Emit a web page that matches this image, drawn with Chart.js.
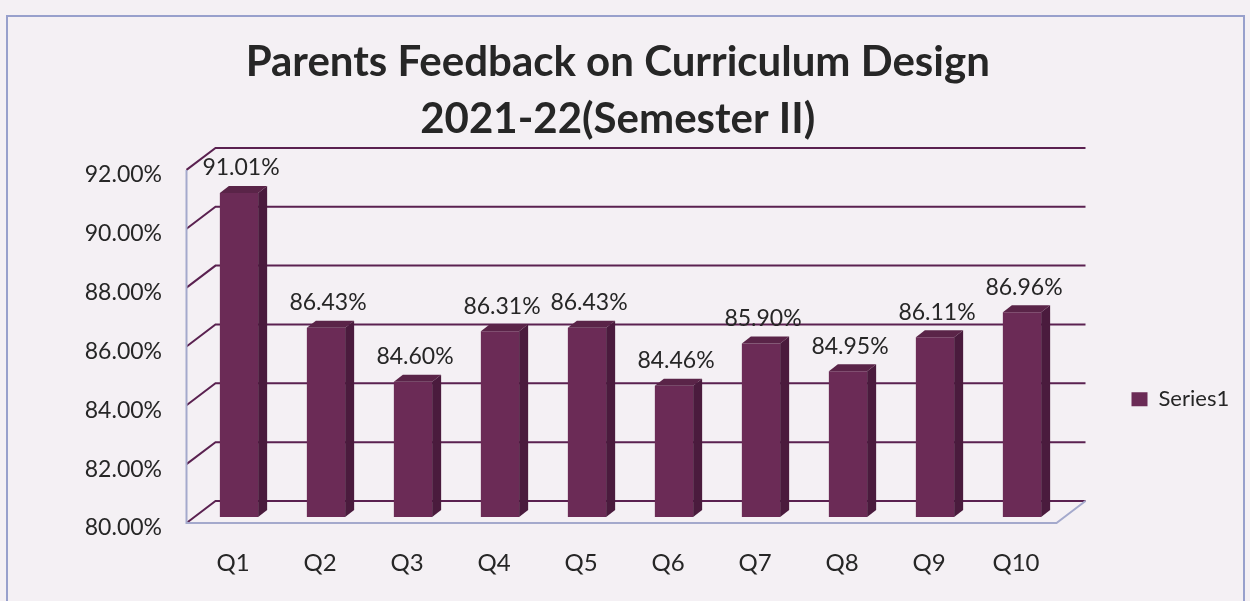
<!DOCTYPE html>
<html>
<head>
<meta charset="utf-8">
<script src="https://cdn.jsdelivr.net/npm/chart.js@4/dist/chart.umd.min.js"></script>
<style>
  body { margin: 0; background: #f4f0f4; }
  #frame { position: absolute; left: 6px; top: 15px; width: 1235px; height: 600px; border: 2px solid #98a0cc; }
  #feedback-chart { position: absolute; left: 0; top: 0; }
</style>
</head>
<body>
<div id="frame"></div>
<canvas id="feedback-chart" width="1250" height="601"></canvas>
<script>
let questions = ['Q1', 'Q2', 'Q3', 'Q4', 'Q5', 'Q6', 'Q7', 'Q8', 'Q9', 'Q10'];
let feedbackScores = [91.01, 86.43, 84.60, 86.31, 86.43, 84.46, 85.90, 84.95, 86.11, 86.96];
let seriesName = 'Series1';
let titleLines = ['Parents Feedback on Curriculum Design', '2021-22(Semester II)'];
let yMin = 80; let yMax = 92; let yStep = 2;

const barColor = '#6b2b56';
const sideColor = '#4a1b3d';
const topColor = '#5a2448';
const gridColor = '#5a2150';
const floorColor = '#a4a9cc';
const textColor = '#262626';

// offsets of the front and back planes, relative to the plane the bars stand in
const frontDx = -9, frontDy = 6;
const backDx = 20, backDy = -16;
const depthX = 9, depthY = 7;

const wallsPlugin = {
    id: 'walls',
    beforeDatasetsDraw(chart) {
        const ctx = chart.ctx;
        const area = chart.chartArea;
        const yScale = chart.scales.y;
        ctx.save();
        ctx.lineWidth = 2;
        for (let v = yMin; v <= yMax; v = v + yStep) {
            const y = yScale.getPixelForValue(v);
            ctx.strokeStyle = gridColor;
            ctx.beginPath();
            ctx.moveTo(area.left + frontDx, y + frontDy);
            ctx.lineTo(area.left + backDx, y + backDy);
            ctx.lineTo(area.right + backDx, y + backDy);
            ctx.stroke();
        }
        // front edges of the left wall and floor
        const bottom = yScale.getPixelForValue(yMin);
        const top = yScale.getPixelForValue(yMax);
        ctx.strokeStyle = floorColor;
        ctx.beginPath();
        ctx.moveTo(area.left + frontDx, top + frontDy);
        ctx.lineTo(area.left + frontDx, bottom + frontDy);
        ctx.lineTo(area.right + frontDx, bottom + frontDy);
        ctx.lineTo(area.right + backDx, bottom + backDy);
        ctx.stroke();
        ctx.restore();
    },
    afterDatasetsDraw(chart) {
        const ctx = chart.ctx;
        const meta = chart.getDatasetMeta(0);
        const floorY = chart.scales.y.getPixelForValue(yMin);
        ctx.save();
        meta.data.forEach((bar, i) => {
            const p = bar.getProps(['x', 'y', 'width'], true);
            const x0 = p.x - p.width / 2;
            const x1 = p.x + p.width / 2;
            ctx.fillStyle = topColor;
            ctx.beginPath();
            ctx.moveTo(x0, p.y);
            ctx.lineTo(x1, p.y);
            ctx.lineTo(x1 + depthX, p.y - depthY);
            ctx.lineTo(x0 + depthX, p.y - depthY);
            ctx.closePath();
            ctx.fill();
            ctx.fillStyle = sideColor;
            ctx.beginPath();
            ctx.moveTo(x1, p.y);
            ctx.lineTo(x1 + depthX, p.y - depthY);
            ctx.lineTo(x1 + depthX, floorY - depthY);
            ctx.lineTo(x1, floorY);
            ctx.closePath();
            ctx.fill();

            // value label over the bar
            ctx.fillStyle = textColor;
            ctx.font = '23px Lato';
            ctx.textAlign = 'center';
            ctx.textBaseline = 'middle';
            ctx.fillText(feedbackScores[i].toFixed(2) + '%', p.x + 2, p.y - 25);
        });
        ctx.restore();
    }
};

const ctx = document.getElementById('feedback-chart').getContext('2d');

const chart = new Chart(ctx, {
    type: 'bar',
    data: {
        labels: questions,
        datasets: [{
            label: seriesName,
            data: feedbackScores,
            backgroundColor: barColor,
            borderWidth: 0,
            barPercentage: 0.44,
            categoryPercentage: 1
        }]
    },
    options: {
        responsive: false,
        animation: false,
        devicePixelRatio: 1,
        layout: {
            padding: { top: 33, right: 14.5, bottom: 0, left: 0 }
        },
        scales: {
            x: {
                grid: { display: false, drawTicks: false },
                border: { display: false },
                ticks: {
                    color: textColor,
                    font: { family: 'Lato', size: 24 },
                    padding: 32,
                    labelOffset: -6
                },
                afterFit: (scale) => { scale.height = 84; }
            },
            y: {
                min: yMin,
                max: yMax,
                grid: { display: false, drawTicks: false },
                border: { display: false },
                ticks: {
                    stepSize: yStep,
                    color: textColor,
                    font: { family: 'Lato', size: 23 },
                    padding: 33.5,
                    labelOffset: 11,
                    callback: (value) => value.toFixed(2) + '%'
                },
                afterFit: (scale) => { scale.width = 195.5; }
            }
        },
        plugins: {
            title: {
                display: true,
                text: titleLines,
                color: textColor,
                font: { family: 'Lato', size: 42, weight: 'bold', lineHeight: 1.38 },
                padding: { top: 0, bottom: 15 }
            },
            legend: {
                display: true,
                position: 'right',
                maxWidth: 170,
                title: { display: true, text: '', padding: 75 },
                labels: {
                    color: textColor,
                    font: { family: 'Lato', size: 22 },
                    boxWidth: 16,
                    boxHeight: 14,
                    padding: 66
                }
            },
            tooltip: { enabled: false }
        }
    },
    plugins: [wallsPlugin]
});
</script>
</body>
</html>
